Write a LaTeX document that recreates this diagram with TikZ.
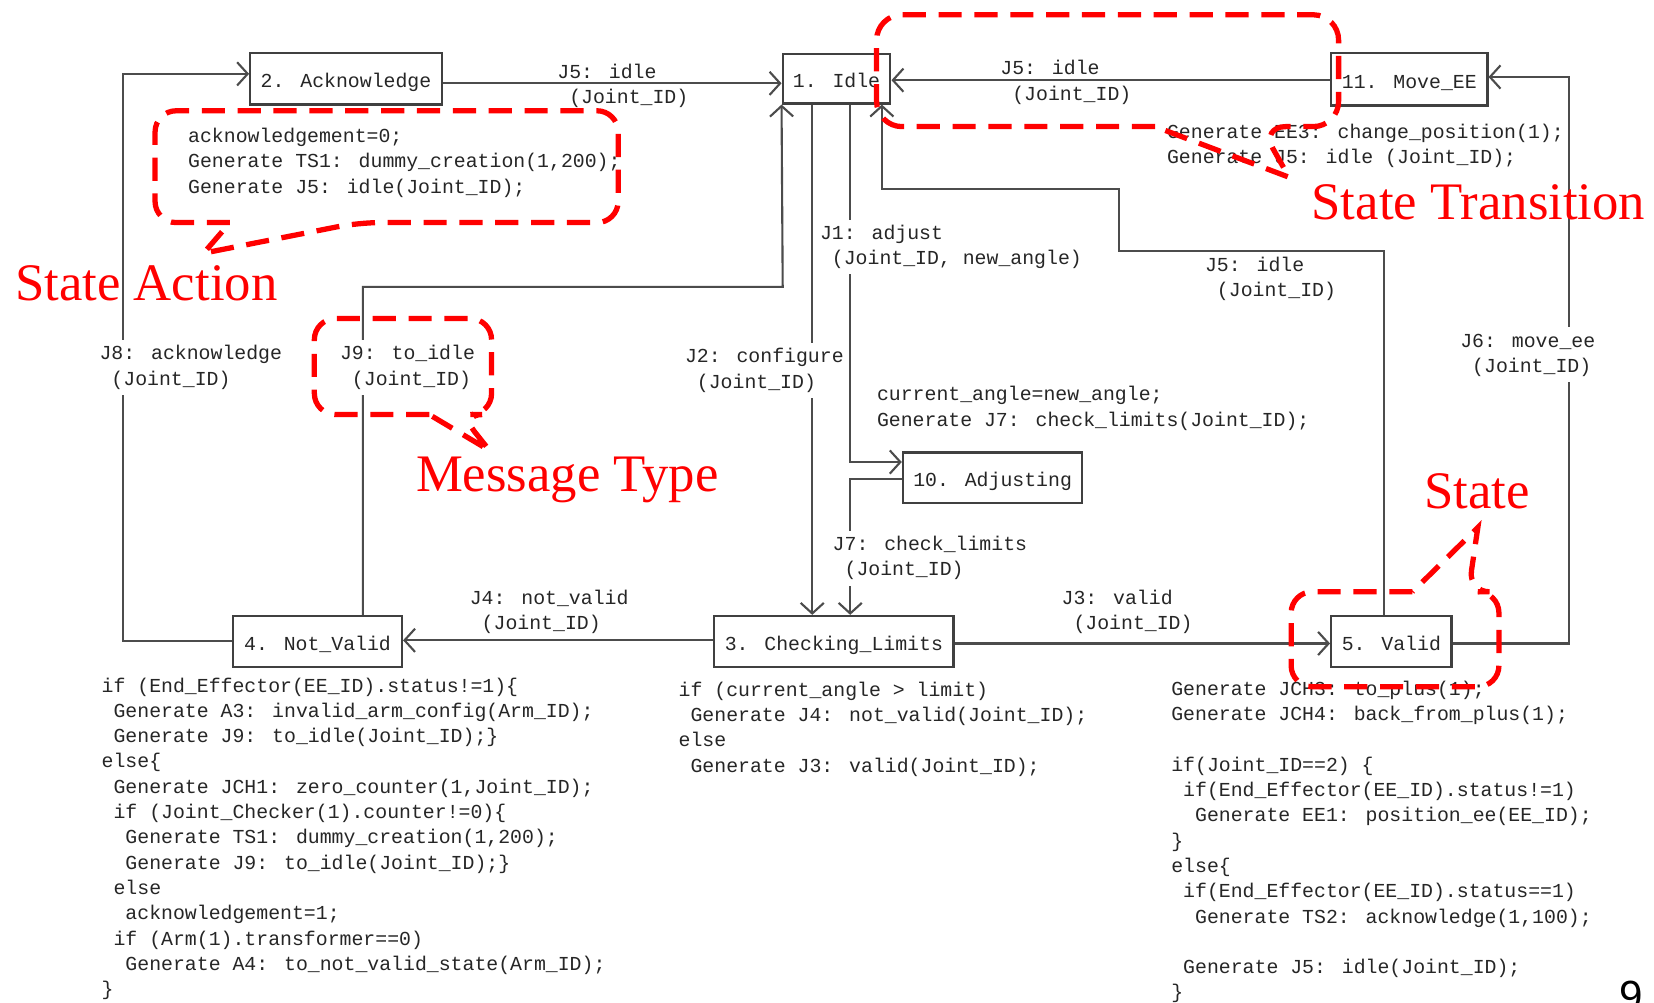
\documentclass[tikz,border=0pt]{standalone}
\usepackage{fontspec}
\usetikzlibrary{arrows.meta}
\newfontfamily\codefont{Liberation Mono}
\newfontfamily\notefont{Liberation Serif}
\newfontfamily\pagefont{Liberation Sans}
% one character of indentation in the monospaced code
\newcommand\ind{\hspace*{0.6em}}
% lines of code whose baseline is that of the first line
\newcommand\codelines[1]{\begin{tabular}[t]{@{}l@{}}#1\end{tabular}}

\begin{document}
\begin{tikzpicture}[x=0.5pt,y=-0.5pt,
  code/.style={font=\codefont\fontsize{9.4}{12}\selectfont, text=black!85,
    anchor=base west, inner sep=0pt},
  lbl/.style={code, fill=white, inner sep=1pt},
  statebox/.style={draw=black!75, line width=1.1pt, fill=white,
    font=\codefont\fontsize{9.4}{12}\selectfont, text=black!85, inner sep=0pt,
    text height=9pt, text depth=0.4pt},
  conn/.style={draw=black!70, line width=1pt},
  arr/.style={conn, -{Straight Barb[length=5pt,width=11pt]}},
  marktext/.style={font=\notefont\fontsize{25}{30}\selectfont, text=red,
    anchor=base west, inner sep=0pt},
  markline/.style={draw=red, line width=2.5pt, dash pattern=on 11pt off 6pt,
    line cap=butt},
]
\useasboundingbox (0,0) rectangle (1568,950);
\clip (0,0) rectangle (1568,950);
\fill[white] (0,0) rectangle (1568,950);

% ---------------- states ----------------
\node[statebox, minimum width=90.75pt, minimum height=24.5pt] (ack) at (328,74.5) {2. Acknowledge};
\node[statebox, minimum width=51pt, minimum height=23.5pt] (idle) at (793,74.5) {1. Idle};
\node[statebox, minimum width=74pt, minimum height=25pt] (move) at (1336,75) {11. Move\_EE};
\node[statebox, minimum width=85pt, minimum height=24pt] (adj) at (941,453) {10. Adjusting};
\node[statebox, minimum width=80pt, minimum height=24pt] (nv) at (301,608) {4. Not\_Valid};
\node[statebox, minimum width=113.5pt, minimum height=24pt] (chk) at (790.5,608) {3. Checking\_Limits};
\node[statebox, minimum width=57pt, minimum height=24pt] (val) at (1319,608) {5. Valid};

% ---------------- transitions ----------------
% J5: idle  (Acknowledge -> Idle)
\draw[arr] (ack.east |- 0,79) -- (idle.west |- 0,79);
% J5: idle  (Move_EE -> Idle)
\draw[arr] (move.west |- 0,76) -- (idle.east |- 0,76);
% J6: move_ee (Valid -> Move_EE)
\draw[arr] (val.east |- 0,610) -| (1487,73) -- (move.east |- 0,73);
% J5: idle (Valid -> Idle)
\draw[arr] (val.north -| 1312,0) -- (1312,238) -- (1061,238) -- (1061,179)
  -- (836,179) -- (idle.south -| 836,0);
% J2: configure (Idle -> Checking_Limits)
\draw[arr] (idle.south -| 770,0) -- (chk.north -| 770,0);
% J1: adjust (Idle -> Adjusting)
\draw[arr] (idle.south -| 806,0) |- (adj.west |- 0,438);
% J7: check_limits (Adjusting -> Checking_Limits)
\draw[arr] (adj.west |- 0,454) -| (chk.north -| 806,0);
% J4: not_valid (Checking_Limits -> Not_Valid)
\draw[arr] (chk.west |- 0,607) -- (nv.east |- 0,607);
% J3: valid (Checking_Limits -> Valid)
\draw[arr] (chk.east |- 0,610) -- (val.west |- 0,610);
% J8: acknowledge (Not_Valid -> Acknowledge)
\draw[arr] (nv.west |- 0,608) -| (117,70) -- (ack.west |- 0,70);
% J9: to_idle (Not_Valid -> Idle)
\draw[arr] (nv.north -| 344,0) |- (742,272) -- (idle.south west);

% ---------------- message labels ----------------
\node[code] (lackidle) at (528,74) {\codelines{J5: idle\\\ind(Joint\_ID)}};
\node[code] (lmoveidle) at (948,71) {\codelines{J5: idle\\\ind(Joint\_ID)}};
\node[lbl] (lj1) at (775,227) {\codelines{J1: adjust\\\ind(Joint\_ID, new\_angle)}};
\node[lbl] (lj2) at (647,344) {\codelines{J2: configure\\\ind(Joint\_ID)}};
\node[code] (lj5) at (1142,257) {\codelines{J5: idle\\\ind(Joint\_ID)}};
\node[lbl] (lj6) at (1382,329) {\codelines{J6: move\_ee\\\ind(Joint\_ID)}};
\node[lbl] (lj7) at (787,522) {\codelines{J7: check\_limits\\\ind(Joint\_ID)}};
\node[code] (lj4) at (445,573) {\codelines{J4: not\_valid\\\ind(Joint\_ID)}};
\node[code] (lj3) at (1006,573) {\codelines{J3: valid\\\ind(Joint\_ID)}};
\node[lbl] (lj8) at (92,341) {\codelines{J8: acknowledge\\\ind(Joint\_ID)}};
\node[lbl] (lj9) at (320,341) {\codelines{J9: to\_idle\\\ind(Joint\_ID)}};

% ---------------- state actions ----------------
\node[code] (aack) at (178,135) {\codelines{acknowledgement=0;\\
Generate TS1: dummy\_creation(1,200);\\
Generate J5: idle(Joint\_ID);}};
\node[code] (amove) at (1106,131) {\codelines{Generate EE3: change\_position(1);\\
Generate J5: idle (Joint\_ID);}};
\node[code] (aadj) at (831,380) {\codelines{current\_angle=new\_angle;\\
Generate J7: check\_limits(Joint\_ID);}};
\node[code] (anv) at (96,656) {\codelines{if (End\_Effector(EE\_ID).status!=1)\{\\
\ind Generate A3: invalid\_arm\_config(Arm\_ID);\\
\ind Generate J9: to\_idle(Joint\_ID);\}\\
else\{\\
\ind Generate JCH1: zero\_counter(1,Joint\_ID);\\
\ind if (Joint\_Checker(1).counter!=0)\{\\
\ind\ind Generate TS1: dummy\_creation(1,200);\\
\ind\ind Generate J9: to\_idle(Joint\_ID);\}\\
\ind else\\
\ind\ind acknowledgement=1;\\
\ind if (Arm(1).transformer==0)\\
\ind\ind Generate A4: to\_not\_valid\_state(Arm\_ID);\\
\}}};
\node[code] (achk) at (643,660) {\codelines{if (current\_angle > limit)\\
\ind Generate J4: not\_valid(Joint\_ID);\\
else\\
\ind Generate J3: valid(Joint\_ID);}};
\node[code] (aval) at (1110,659) {\codelines{Generate JCH3: to\_plus(1);\\
Generate JCH4: back\_from\_plus(1);\\
\\
if(Joint\_ID==2) \{\\
\ind if(End\_Effector(EE\_ID).status!=1)\\
\ind\ind Generate EE1: position\_ee(EE\_ID);\\
\}\\
else\{\\
\ind if(End\_Effector(EE\_ID).status==1)\\
\ind\ind Generate TS2: acknowledge(1,100);\\
\\
\ind Generate J5: idle(Joint\_ID);\\
\}}};

% ---------------- annotations ----------------
\draw[markline] (218,211) [rounded corners=10pt] -- (147,211) -- (147,105)
  -- (586,105) -- (586,211) -- (340,211) [sharp corners] -- (193,240) -- cycle;
\draw[markline] (407,393) [rounded corners=10pt] -- (298,393) -- (298,302)
  -- (466,302) -- (466,393) -- (437,393) [sharp corners] -- (464,427) -- cycle;
\draw[markline] (1095,120) [rounded corners=12pt] -- (831,120) -- (831,14)
  -- (1269,14) -- (1269,120) -- (1195,120) [sharp corners] -- (1222,168) -- cycle;
\draw[markline] (1339,561) [rounded corners=10pt] -- (1224,561) -- (1224,651)
  -- (1421,651) -- (1421,561) -- (1392,561) [sharp corners] -- (1401,500) -- cycle;

\node[marktext] (tact) at (14,285) {State Action};
\node[marktext] (tmsg) at (394,466) {Message Type};
\node[marktext] (ttrans) at (1243,208) {State Transition};
\node[marktext] (tstate) at (1350,482) {State};

\node[font=\pagefont\fontsize{20}{24}\selectfont, anchor=base west, inner sep=0pt] (pg) at (1535,958) {9};
\end{tikzpicture}
\end{document}
